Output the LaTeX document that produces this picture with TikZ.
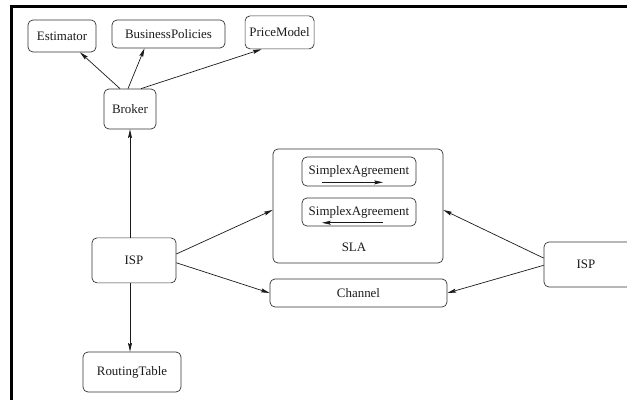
\documentclass[tikz,border=0pt]{standalone}
\usepackage{fontspec}
\setmainfont{Liberation Serif}
\definecolor{figInk}{HTML}{1A1A1A}
\definecolor{figEdge}{HTML}{333333}
\usetikzlibrary{arrows.meta,calc}

\begin{document}
\begin{tikzpicture}[
  font=\fontsize{9.2}{11}\selectfont,
  box/.style={draw=figEdge,line width=0.5pt,rounded corners=3.5pt,inner sep=1pt,
              align=center,text=figInk},
  link/.style={->,line width=0.5pt,figInk},
  >={Stealth[length=2.2mm,width=1mm,inset=0.4mm]}
]
\useasboundingbox (0,0) rectangle (15.675,10);
\draw[line width=2.5pt] (0.2825,0) -- (0.2825,9.8425) -- (15.8,9.8425);
\node[box,minimum width=1.7cm,minimum height=0.8cm] (est) at (1.55,9.1) {Estimator};
\node[box,minimum width=2.825cm,minimum height=0.7cm] (bp) at (4.2125,9.15) {BusinessPolicies};
\node[box,minimum width=1.725cm,minimum height=0.825cm] (pm) at (6.99,9.19) {PriceModel};
\node[box,minimum width=1.3cm,minimum height=1cm] (broker) at (3.25,7.275) {Broker};
\node[box,minimum width=2.1cm,minimum height=1.125cm] (isp) at (3.35,3.49) {ISP};
\node[box,minimum width=2.45cm,minimum height=1cm] (rt) at (3.3,0.7) {RoutingTable};
\node[box,minimum width=4.25cm,minimum height=2.85cm] (sla) at (8.95,4.85) {};
\node[text=figInk] (slatext) at (8.85,3.825) {SLA};
\node[box,minimum width=2.85cm,minimum height=0.725cm] (sa1) at (8.975,5.7125) {SimplexAgreement};
\node[box,minimum width=2.85cm,minimum height=0.7cm] (sa2) at (8.975,4.7) {SimplexAgreement};
\node[box,minimum width=4.425cm,minimum height=0.7cm] (chan) at (8.9625,2.675) {Channel};
\node[box,minimum width=2.2cm,minimum height=1.125cm,text width=2cm] (ispr) at (14.7,3.3875) {\hspace*{-0.1cm}ISP};
\draw[link] ([xshift=-0.25cm]broker.north) -- ([xshift=0.45cm]est.south);
\draw[link] ([xshift=-0.05cm]broker.north) -- ([xshift=-0.6cm]bp.south);
\draw[link] ([xshift=0.275cm]broker.north) -- ([xshift=-0.45cm]pm.south);
\draw[link] (broker.south |- isp.north) -- (broker.south);
\draw[link] (broker.south |- isp.south) -- (broker.south |- rt.north);
\draw[link] ([yshift=0.16cm]isp.east) -- ([yshift=-0.1cm]sla.west);
\draw[link] ([yshift=-0.06cm]isp.east) -- (chan.west);
\draw[link] ([yshift=0.16cm]ispr.west) -- ([yshift=-0.1cm]sla.east);
\draw[link] ([yshift=-0.02cm]ispr.west) -- (chan.east);
\draw[link] ([xshift=-0.925cm,yshift=0.1cm]sa1.south) -- ([xshift=0.6cm,yshift=0.1cm]sa1.south);
\draw[link] ([xshift=0.6cm,yshift=0.09cm]sa2.south) -- ([xshift=-0.925cm,yshift=0.09cm]sa2.south);
\end{tikzpicture}
\end{document}
